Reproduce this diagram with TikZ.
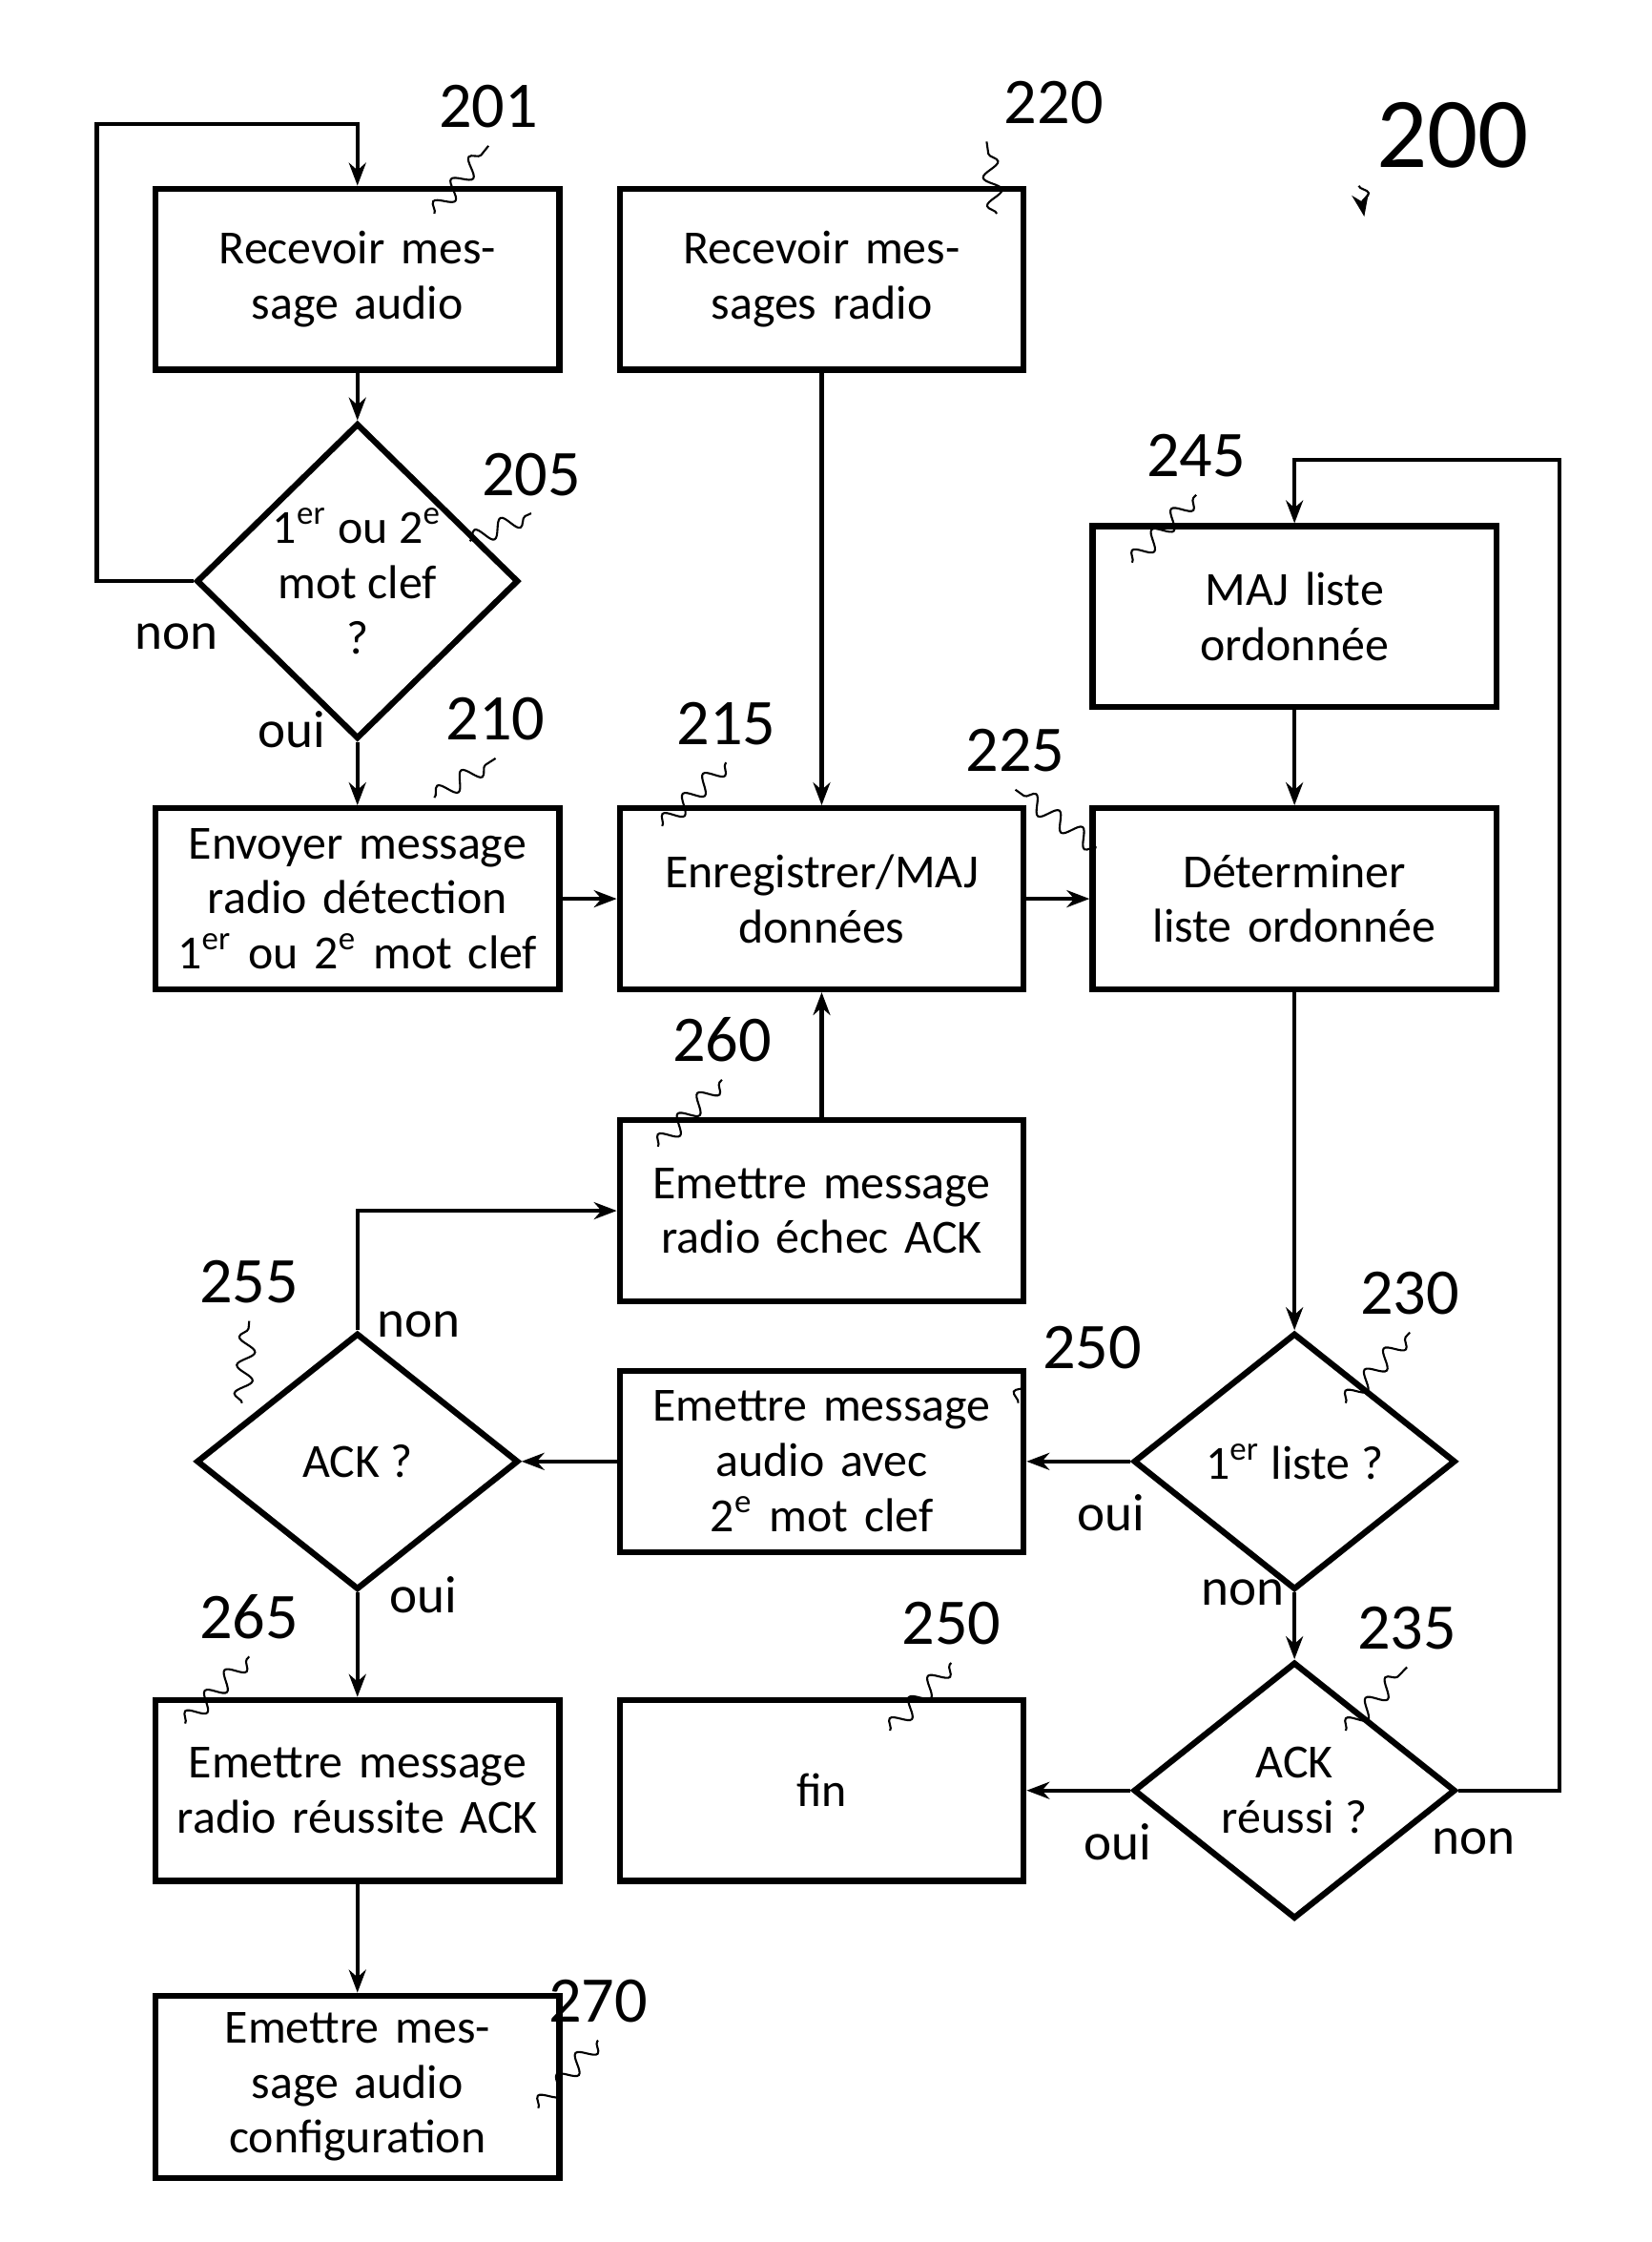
\documentclass[tikz,border=0pt]{standalone}
\usepackage{fontspec}
\setmainfont{Carlito}
\usetikzlibrary{arrows.meta}
\usetikzlibrary{shapes.geometric,decorations.pathmorphing}

\begin{document}
\begin{tikzpicture}[x=0.01cm, y=-0.01cm,
    box/.style={draw, very thick, minimum width=2.76cm, minimum height=1.27cm, text width=2.6cm, align=center, font=\fontsize{9.5}{11}\selectfont},
    dec/.style={draw, very thick, diamond, minimum width=2.26cm, minimum height=1.8cm, inner sep=0pt, align=center, font=\fontsize{9.5}{11}\selectfont},
    flow/.style={thick, -{Stealth[length=1.6mm]}},
    num/.style={font=\fontsize{13}{13}\selectfont},
    lbl/.style={font=\fontsize{10.5}{12}\selectfont},
    wig/.style={thin, decorate, decoration={snake, amplitude=0.6mm, segment length=2mm}}]
    \useasboundingbox (0,0) rectangle (1160,1574);

    % boxes and decisions
    \node[box] (recaud) at (251,196) {Recevoir message audio};
    \node[box] (recrad) at (577,196) {Recevoir messages radio};
    \node[dec] (motclef) at (251,408) {1\textsuperscript{er} ou 2\textsuperscript{e}\\mot clef\\?};
    \node[box] (majliste) at (909,433) {MAJ liste ordonnée};
    \node[box] (envoi) at (251,631) {Envoyer message radio détection 1\textsuperscript{er} ou 2\textsuperscript{e} mot clef};
    \node[box] (enreg) at (577,631) {Enregistrer/MAJ données};
    \node[box] (determ) at (909,631) {Déterminer liste ordonnée};
    \node[box] (echec) at (577,850) {Emettre message radio échec ACK};
    \node[dec] (ack) at (251,1026) {ACK ?};
    \node[box] (audio2) at (577,1026) {Emettre message audio avec 2\textsuperscript{e} mot clef};
    \node[dec] (liste1) at (909,1026) {1\textsuperscript{er} liste ?};
    \node[box] (reussite) at (251,1257) {Emettre message radio réussite ACK};
    \node[box] (fin) at (577,1257) {fin};
    \node[dec] (ackok) at (909,1257) {ACK\\réussi ?};
    \node[box] (config) at (251,1465) {Emettre message audio configuration};

    \coordinate (loopA) at (68,87);
    \coordinate (loopB) at (1095,323);
    \coordinate (topE) at (251,851);

    % connectors
    \draw[flow] (recaud) -- (motclef);
    \draw[flow] (motclef.west) -| (loopA) -| (recaud.north);
    \draw[flow] (motclef) -- (envoi);
    \draw[flow] (recrad) -- (enreg);
    \draw[flow] (envoi) -- (enreg);
    \draw[flow] (enreg) -- (determ);
    \draw[flow] (majliste) -- (determ);
    \draw[flow] (determ) -- (liste1);
    \draw[flow] (liste1) -- (audio2);
    \draw[flow] (audio2) -- (ack);
    \draw[flow] (liste1) -- (ackok);
    \draw[flow] (ackok) -- (fin);
    \draw[flow] (ackok.east) -| (loopB) -| (majliste.north);
    \draw[flow] (ack.north) |- (echec.west);
    \draw[flow] (echec) -- (enreg);
    \draw[flow] (ack) -- (reussite);
    \draw[flow] (reussite) -- (config);

    % branch labels
    \node[lbl] at (124,447) {non};
    \node[lbl] at (205,512) {oui};
    \node[lbl] at (294,930) {non};
    \node[lbl] at (297,1120) {oui};
    \node[lbl] at (780,1062) {oui};
    \node[lbl] at (873,1118) {non};
    \node[lbl] at (785,1293) {oui};
    \node[lbl] at (1035,1293) {non};

    % reference numbers
    \node[num] (n201) at (343,75) {201};
    \node[num] (n220) at (740,72) {220};
    \node[num, font=\fontsize{20}{20}\selectfont] (n200) at (1020,95) {200};
    \node[num] (n205) at (373,333) {205};
    \node[num] (n245) at (840,320) {245};
    \node[num] (n210) at (348,505) {210};
    \node[num] (n215) at (510,508) {215};
    \node[num] (n225) at (713,527) {225};
    \node[num] (n260) at (507,730) {260};
    \node[num] (n230) at (990,908) {230};
    \node[num] (n255) at (175,900) {255};
    \node[num] (n250a) at (767,946) {250};
    \node[num] (n265) at (175,1135) {265};
    \node[num] (n250b) at (668,1140) {250};
    \node[num] (n235) at (988,1143) {235};
    \node[num] (n270) at (420,1405) {270};

    \draw[wig] (305,150) -- (n201.south);
    \draw[wig] (700,150) -- (n220.south west);
    \draw[wig, -{Stealth[length=1.6mm]}] (n200.south west) -- (958,152);
    \draw[wig] (330,380) -- (n205.south);
    \draw[wig] (795,395) -- (n245.south);
    \draw[wig] (305,560) -- (n210.south);
    \draw[wig] (465,580) -- (n215.south);
    \draw[wig] (770,595) -- (n225.south);
    \draw[wig] (462,805) -- (n260.south);
    \draw[wig] (945,985) -- (n230.south);
    \draw[wig] (170,985) -- (n255.south);
    \draw[wig] (715,985) -- (n250a.south west);
    \draw[wig] (130,1210) -- (n265.south);
    \draw[wig] (625,1215) -- (n250b.south);
    \draw[wig] (945,1215) -- (n235.south);
    \draw[wig] (378,1480) -- (n270.south);
\end{tikzpicture}
\end{document}
